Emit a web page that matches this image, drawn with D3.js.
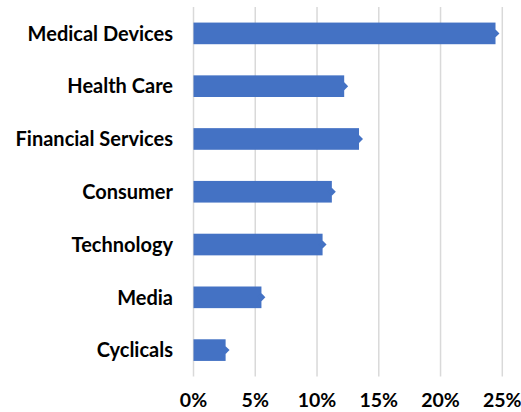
<!DOCTYPE html>
<html>
<head>
<meta charset="utf-8">
<script src="https://cdn.jsdelivr.net/npm/d3@7"></script>
<style>
  body { margin: 0; background: #fff; }
  svg { display: block; }
</style>
</head>
<body>
<svg id="drawing_region"></svg>
<script>
const categories = ["Medical Devices", "Health Care", "Financial Services", "Consumer", "Technology", "Media", "Cyclicals"];
const values = [0.2445, 0.122, 0.134, 0.112, 0.1045, 0.055, 0.026];
const ticks = [0, 0.05, 0.10, 0.15, 0.20, 0.25];

const width = 521, height = 412;
const margin = { top: 7, left: 193.5, right: 18.7, bottom: 35.5 };

const svg = d3.select('#drawing_region')
    .attr('width', width)
    .attr('height', height);

const x = d3.scaleLinear()
    .domain([0, 0.25])
    .range([margin.left, width - margin.right]);

const y = d3.scaleBand()
    .domain(categories)
    .range([margin.top, height - margin.bottom])
    .paddingInner(0.59)
    .paddingOuter(0.295);

// gridlines
svg.append('g')
    .selectAll('line')
    .data(ticks)
    .join('line')
    .attr('x1', d => x(d))
    .attr('x2', d => x(d))
    .attr('y1', margin.top)
    .attr('y2', height - margin.bottom)
    .attr('stroke', '#d9d9d9')
    .attr('stroke-width', 1.5);

const data = categories.map((c, i) => ({ label: c, value: values[i] }));

// bars
svg.append('g')
    .selectAll('rect')
    .data(data)
    .join('rect')
    .attr('x', x(0))
    .attr('y', d => y(d.label))
    .attr('width', d => x(d.value) - x(0))
    .attr('height', y.bandwidth())
    .attr('fill', '#4472c4');

// diamond markers at bar ends
svg.append('g')
    .selectAll('path')
    .data(data)
    .join('path')
    .attr('d', d3.symbol().type(d3.symbolDiamond2).size(40))
    .attr('transform', d => `translate(${x(d.value)}, ${y(d.label) + y.bandwidth() / 2})`)
    .attr('fill', '#4472c4');

// category labels
svg.append('g')
    .selectAll('text')
    .data(data)
    .join('text')
    .attr('x', 173)
    .attr('y', d => y(d.label) + y.bandwidth() / 2)
    .attr('dy', '0.36em')
    .attr('text-anchor', 'end')
    .attr('font-family', 'Lato, sans-serif')
    .attr('font-weight', 'bold')
    .attr('font-size', '20px')
    .attr('fill', '#000')
    .text(d => d.label);

// x axis labels
const fmt = d3.format('.0%');
svg.append('g')
    .selectAll('text')
    .data(ticks)
    .join('text')
    .attr('x', d => x(d))
    .attr('y', 407)
    .attr('text-anchor', 'middle')
    .attr('font-family', 'Lato, sans-serif')
    .attr('font-weight', 'bold')
    .attr('font-size', '19.5px')
    .attr('fill', '#000')
    .text(d => fmt(d));
</script>
</body>
</html>
